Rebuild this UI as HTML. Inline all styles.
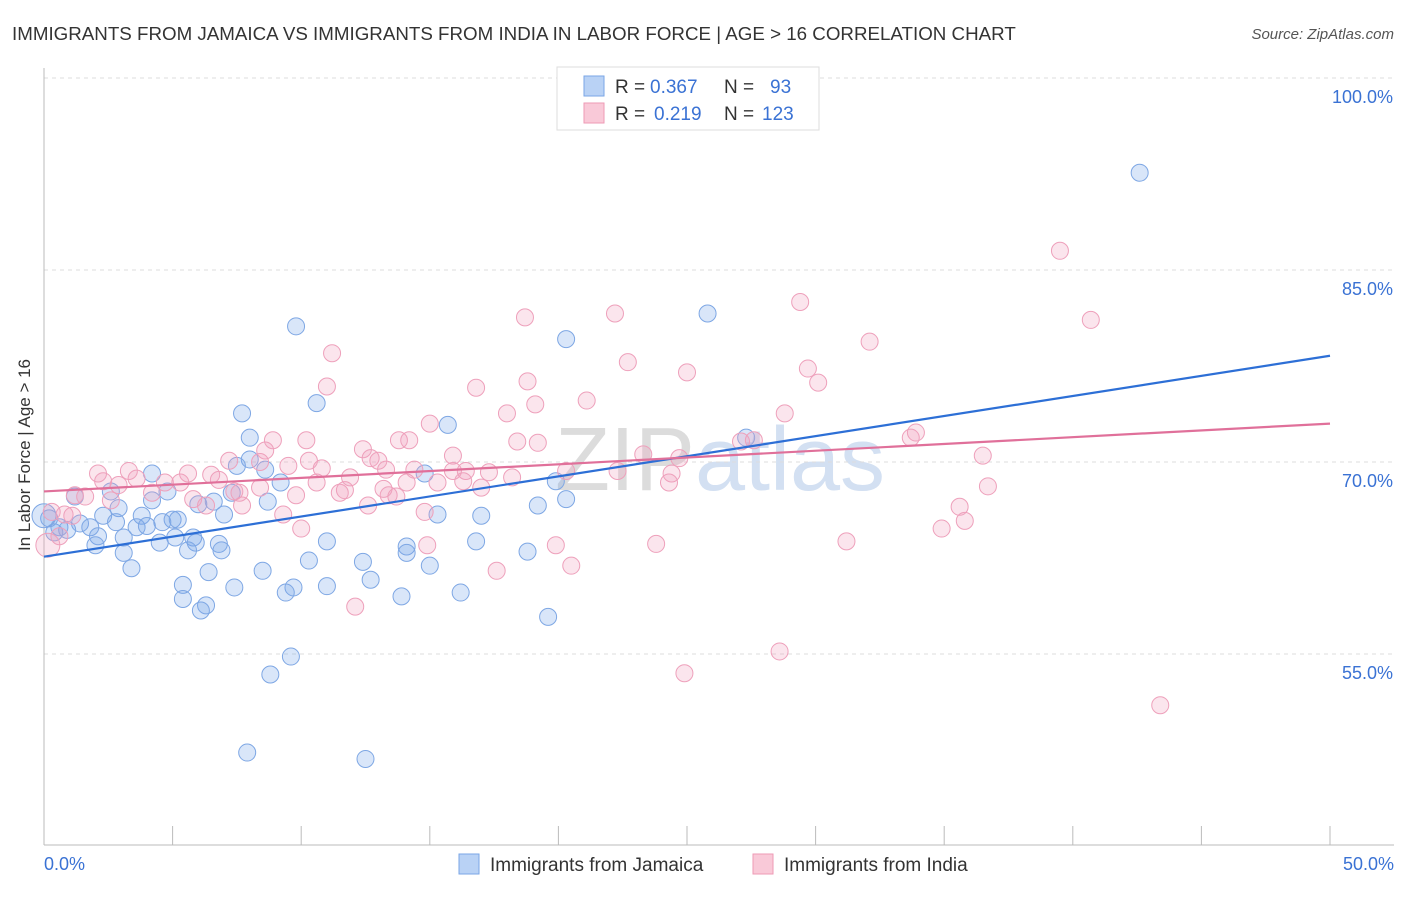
<!DOCTYPE html>
<html><head><meta charset="utf-8"><style>
body{margin:0;background:#fff;font-family:"Liberation Sans",sans-serif;}
svg text{font-family:"Liberation Sans",sans-serif;}
</style></head><body>
<svg width="1406" height="892" id="chart">
<text x="12" y="40" font-size="18.75" fill="#333">IMMIGRANTS FROM JAMAICA VS IMMIGRANTS FROM INDIA IN LABOR FORCE | AGE &gt; 16 CORRELATION CHART</text>
<text x="1394" y="39" font-size="15" fill="#555" font-style="italic" text-anchor="end">Source: ZipAtlas.com</text>
<text x="30" y="455" font-size="17" fill="#333" text-anchor="middle" transform="rotate(-90 30 455)">In Labor Force | Age &gt; 16</text>
<text x="720" y="490" font-size="90" fill="#e2e2e2" text-anchor="middle" font-family="Liberation Serif"><tspan fill="#dcdcdc">ZIP</tspan><tspan fill="#d3e0f2" font-family="Liberation Sans">atlas</tspan></text>
<g id="grid"></g><g id="axes"></g><g id="marks"></g>
<g>
<rect x="557" y="67" width="262" height="63" fill="#fff" stroke="#ddd"/>
<rect x="584" y="76" width="20" height="20" fill="#b9d2f5" stroke="#7aa6e6"/>
<rect x="584" y="103" width="20" height="20" fill="#f9c9d8" stroke="#ee9ab5"/>
<g font-size="19">
<text x="615" y="93" fill="#333">R =</text><text x="650" y="93" fill="#3a72d4">0.367</text>
<text x="724" y="93" fill="#333">N =</text><text x="770" y="93" fill="#3a72d4">93</text></g>
<g font-size="19">
<text x="615" y="120" fill="#333">R =</text><text x="654" y="120" fill="#3a72d4">0.219</text>
<text x="724" y="120" fill="#333">N =</text><text x="762" y="120" fill="#3a72d4">123</text></g>
</g>
<g>
<rect x="459" y="854" width="20" height="20" fill="#b9d2f5" stroke="#7aa6e6"/>
<text x="490" y="871" font-size="19" fill="#333">Immigrants from Jamaica</text>
<rect x="753" y="854" width="20" height="20" fill="#f9c9d8" stroke="#ee9ab5"/>
<text x="784" y="871" font-size="19" fill="#333">Immigrants from India</text>
</g>
</svg>
<script>
const yTicks=[100,85,70,55];
const yTickLabels=["100.0%","85.0%","70.0%","55.0%"];
const xLabels=["0.0%","50.0%"];
const jamX=[42.6,25.8,9.8,20.3,10.6,15.7,7.7,8.0,27.3,8.0,7.5,8.6,14.8,4.2,19.9,9.2,2.6,4.8,7.3,1.2,4.2,8.7,20.3,19.2,6.0,6.6,2.9,2.3,3.8,7.0,15.3,17.0,5.0,4.6,0.2,0.6,1.4,1.8,2.8,3.6,4.0,5.2,0.9,0.4,2.1,3.1,5.1,5.8,2.0,4.5,5.9,6.8,11.0,16.8,5.6,6.9,14.1,14.1,3.1,18.8,10.3,12.4,15.0,3.4,6.4,8.5,12.7,5.4,7.4,9.7,11.0,9.4,16.2,13.9,5.4,6.3,6.1,19.6,9.6,8.8,7.9,12.5,0.0];
const jamY=[92.6,81.6,80.6,79.6,74.6,72.9,73.8,71.9,71.9,70.2,69.7,69.4,69.1,69.1,68.5,68.4,67.7,67.7,67.6,67.3,67.0,66.9,67.1,66.6,66.7,66.9,66.4,65.8,65.8,65.9,65.9,65.8,65.5,65.3,65.6,64.9,65.2,64.9,65.3,64.9,65.0,65.5,64.7,64.5,64.2,64.1,64.1,64.1,63.5,63.7,63.7,63.6,63.8,63.8,63.1,63.1,63.4,62.9,62.9,63.0,62.3,62.2,61.9,61.7,61.4,61.5,60.8,60.4,60.2,60.2,60.3,59.8,59.8,59.5,59.3,58.8,58.4,57.9,54.8,53.4,47.3,46.8,65.8];
const indX=[39.5,40.7,29.4,22.2,18.7,32.1,11.2,22.7,29.7,25.0,18.8,30.1,11.0,16.8,21.1,19.1,18.0,28.8,15.0,33.7,33.9,27.1,27.6,10.2,8.9,14.2,13.8,18.4,19.2,12.4,8.6,23.3,15.9,24.7,36.5,12.7,13.0,7.2,10.3,8.4,9.5,10.8,14.4,13.3,15.9,16.4,17.3,20.3,2.1,3.3,5.6,6.5,22.3,24.4,11.9,2.3,3.6,6.8,4.7,5.3,10.6,14.1,15.3,16.3,18.2,24.3,2.9,8.4,17.0,36.7,13.2,7.4,7.6,4.2,11.5,11.7,13.4,13.7,9.8,1.2,1.6,5.8,2.6,6.3,7.7,12.6,35.6,0.3,0.8,1.1,9.3,14.8,35.8,10.0,34.9,0.6,31.2,23.8,14.9,19.9,20.5,17.6,12.1,28.6,24.9,43.4,0.15];
const indY=[86.5,81.1,82.5,81.6,81.3,79.4,78.5,77.8,77.3,77.0,76.3,76.2,75.9,75.8,74.8,74.5,73.8,73.8,73.0,71.9,72.3,71.6,71.7,71.7,71.7,71.7,71.7,71.6,71.5,71.0,70.9,70.6,70.5,70.3,70.5,70.3,70.1,70.1,70.1,70.0,69.7,69.5,69.4,69.4,69.3,69.3,69.2,69.3,69.1,69.3,69.1,69.0,69.3,69.1,68.8,68.5,68.7,68.6,68.4,68.4,68.4,68.4,68.4,68.5,68.8,68.4,68.2,68.0,68.0,68.1,67.9,67.7,67.6,67.6,67.6,67.8,67.4,67.3,67.4,67.4,67.3,67.1,67.0,66.6,66.6,66.6,66.5,66.1,65.9,65.8,65.9,66.1,65.4,64.8,64.8,64.2,63.8,63.6,63.5,63.5,61.9,61.5,58.7,55.2,53.5,51.0,63.5];
const jamTrend=[62.6,78.3];
const indTrend=[67.7,73.0];
const X=v=>44+v*25.72, Y=v=>78+(100-v)*12.8;
const NS="http://www.w3.org/2000/svg";
function mk(t,a,p){const e=document.createElementNS(NS,t);for(const k in a)e.setAttribute(k,a[k]);p.appendChild(e);return e;}
const grid=document.getElementById('grid'),axes=document.getElementById('axes'),marks=document.getElementById('marks');
yTicks.forEach((t,i)=>{
 const l=mk('line',{x1:44,x2:1394,y1:Y(t),y2:Y(t),stroke:'#ddd','stroke-dasharray':'4 4'},grid);
 
 
 const tx=mk('text',{x:1393,y:Y(t)+25,'font-size':18,fill:'#3a72d4','text-anchor':'end'},axes);
 tx.textContent=yTickLabels[i];
 
 
});
const ax=mk('line',{x1:44,x2:1394,y1:845,y2:845,stroke:'#bbb'},axes);


const ay=mk('line',{x1:44,x2:44,y1:68,y2:845,stroke:'#bbb'},axes);


for(let i=0;i<=10;i++){const t=mk('line',{x1:X(i*5),x2:X(i*5),y1:826,y2:845,stroke:'#bbb'},axes);
 
 }
[[0,'start',44],[50,'end',1394]].forEach((d,i)=>{const t=mk('text',{x:d[2],y:870,'font-size':18,fill:'#3a72d4','text-anchor':d[1]},axes);t.textContent=xLabels[i];
 
 });
function pts(xs,ys,fill,stroke,name){xs.forEach((x,i)=>{const big=i===xs.length-1;
 const c=mk('circle',{cx:X(x),cy:Y(ys[i]),r:big?12:8.5,fill:fill,stroke:stroke,'stroke-width':1},marks);
 
 });}
pts(jamX,jamY,'rgba(120,165,235,0.28)','#7ea7e4','point-jamaica');
pts(indX,indY,'rgba(242,160,190,0.28)','#eea0bb','point-india');
const l1=mk('line',{x1:X(0),y1:Y(jamTrend[0]),x2:X(50),y2:Y(jamTrend[1]),stroke:'#2d6fd6','stroke-width':2.2},marks);


const l2=mk('line',{x1:X(0),y1:Y(indTrend[0]),x2:X(50),y2:Y(indTrend[1]),stroke:'#e0709a','stroke-width':2.2},marks);


</script>
</body></html>
